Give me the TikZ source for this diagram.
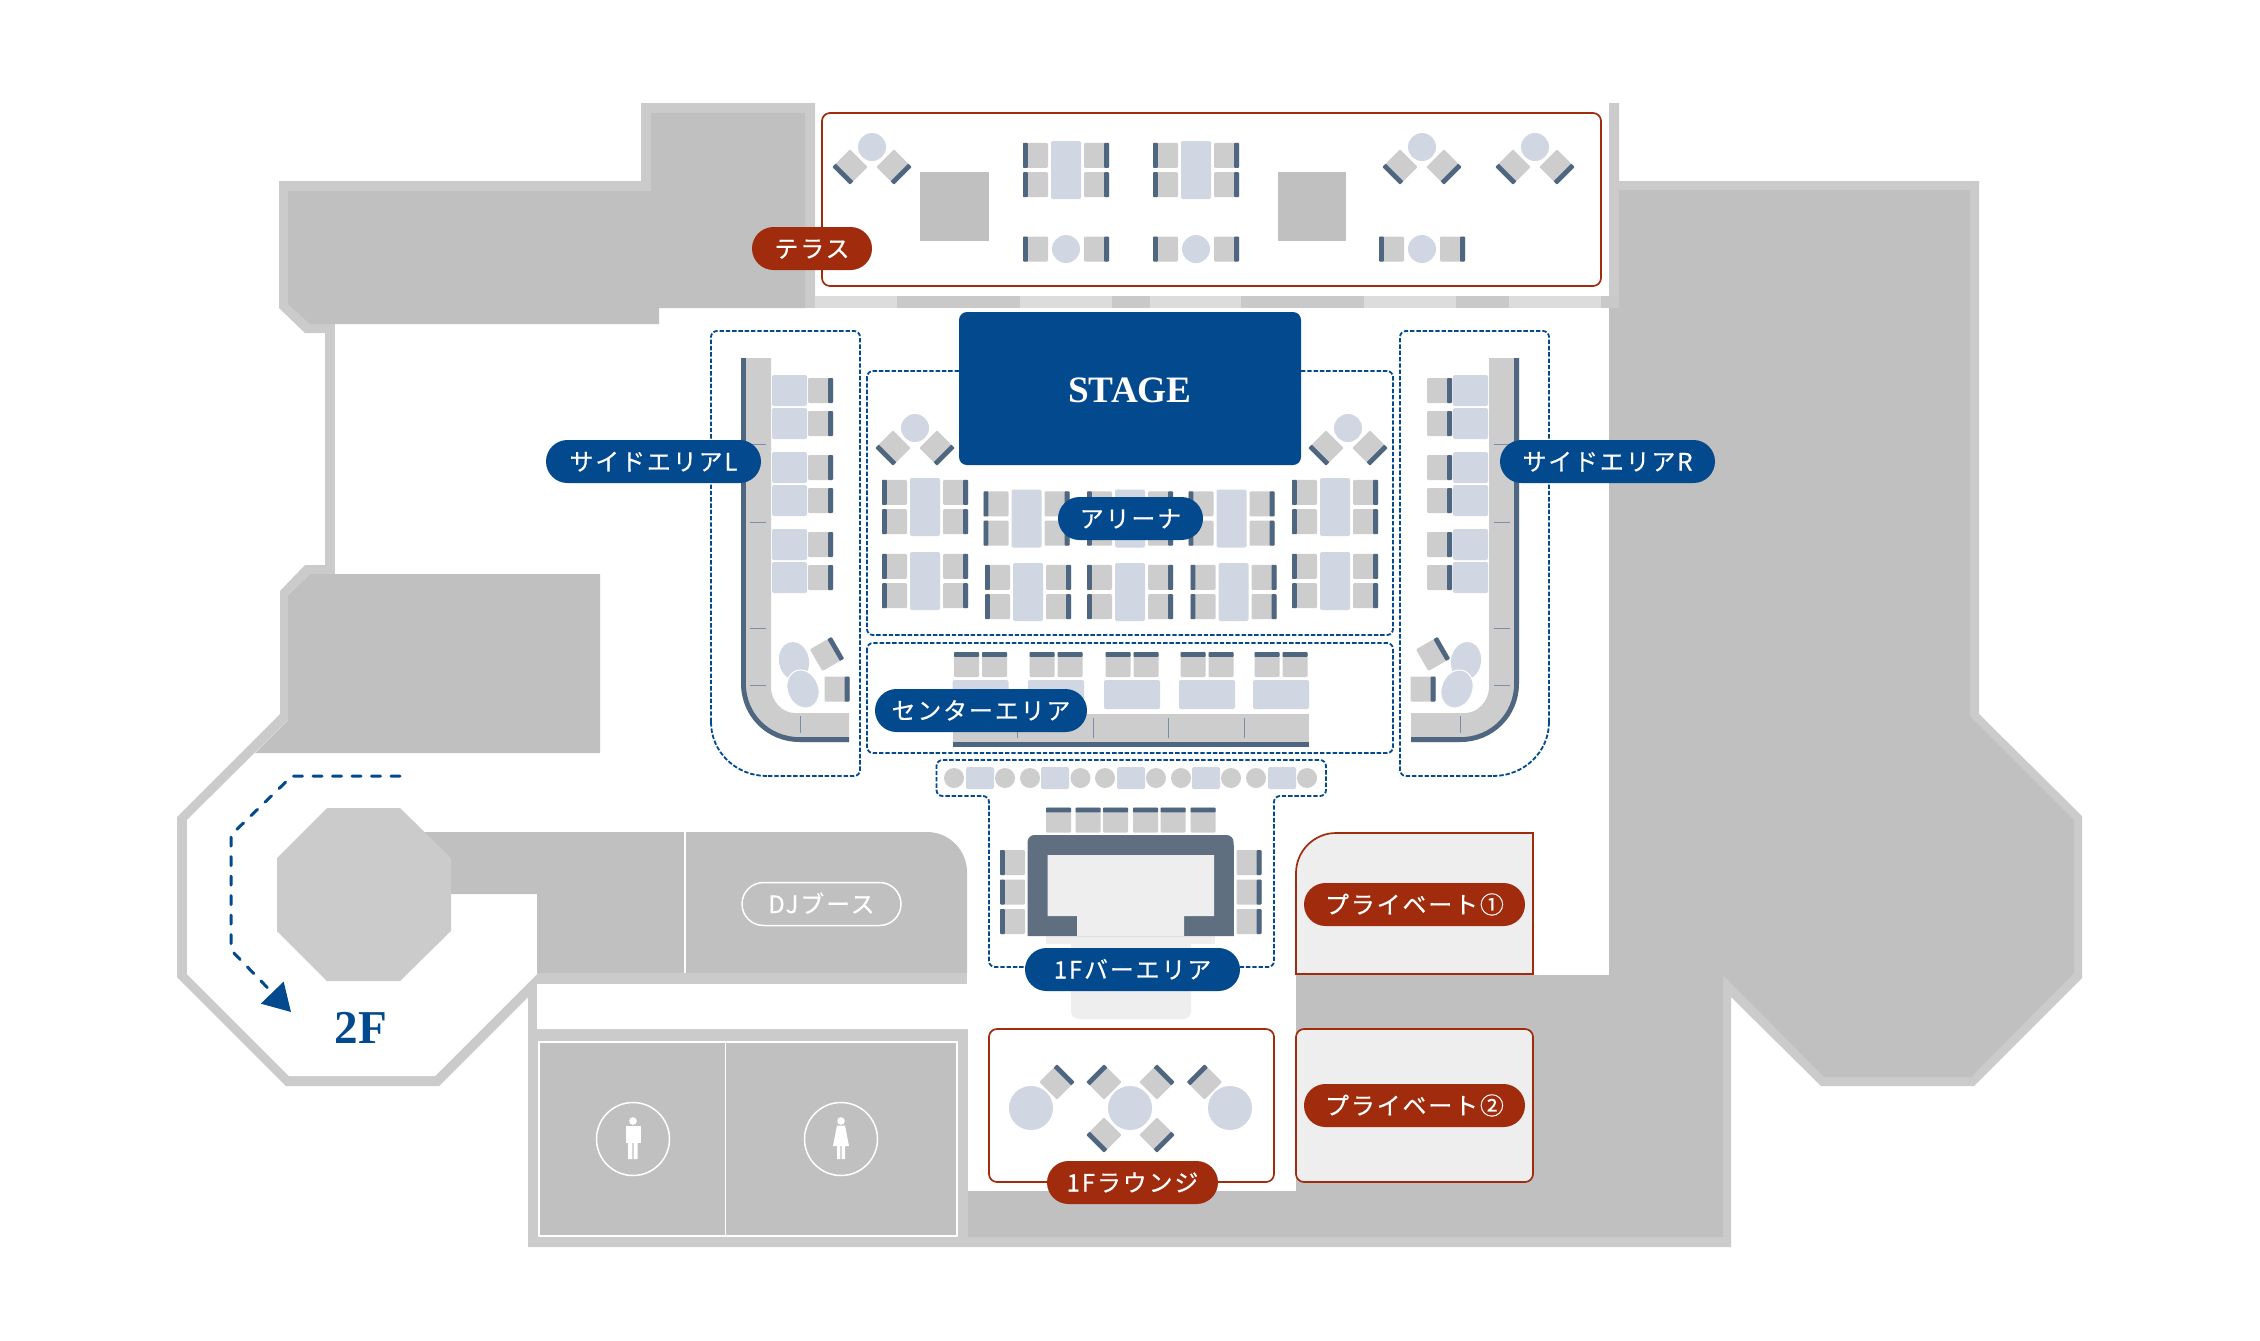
\documentclass[tikz,border=0pt]{standalone}
\usepackage{fontspec}
\usetikzlibrary{arrows.meta}
\newfontfamily\jpface[LetterSpace=8,FakeBold=0.45]{Noto Sans CJK JP}
\newfontfamily\serifface{Liberation Serif}

\definecolor{navy}{HTML}{03498E}
\definecolor{brick}{HTML}{A02B0D}
\definecolor{slate}{HTML}{4F6681}
\definecolor{barslate}{HTML}{5F6F80}
\definecolor{seatgray}{HTML}{CDCDCD}
\definecolor{tableblue}{HTML}{D0D7E2}
\definecolor{walllight}{HTML}{CBCBCB}
\definecolor{blockgray}{HTML}{C0C0C0}
\definecolor{bandlight}{HTML}{DCDCDC}
\definecolor{bandmid}{HTML}{C9C9C9}
\definecolor{floorgray}{HTML}{EEEEEE}
\definecolor{tickblue}{HTML}{7B8EA3}

\tikzset{
    pill/.style={minimum height=4.3mm, rounded corners=2.15mm, inner sep=0pt, text=white,
        text height=2.2mm, text depth=0.4mm, font=\jpface\fontsize{6.8}{6.8}\selectfont},
    navypill/.style={pill, fill=navy},
    brickpill/.style={pill, fill=brick},
    zoneline/.style={draw=navy, line width=0.18mm, dash pattern=on 0.44mm off 0.19mm, rounded corners=0.6mm},
    redbox/.style={draw=brick, line width=0.17mm, rounded corners=0.8mm},
    tablefill/.style={fill=tableblue, rounded corners=0.2mm},
    tick/.style={draw=tickblue, line width=0.1mm},
    chair/.pic={
        \path[fill=seatgray, rounded corners=0.12mm] (-12.5,-12.5) rectangle (12.5,12.5);
        \path[fill=slate, rounded corners=0.08mm] (-12.5,-12.5) rectangle (12.5,-7.7);
    }
}

% table with four chairs, centre at #1,#2
\newcommand{\tableset}[2]{
    \path[tablefill] (#1-15,#2-29) rectangle (#1+15,#2+29);
    \foreach \s in {-14.7,14.7} {
        \pic[rotate=90] at (#1-30.5,#2+\s) {chair};
        \pic[rotate=-90] at (#1+30.5,#2+\s) {chair};
    }
}
% round table with two chairs in a row
\newcommand{\roundset}[2]{
    \fill[tableblue] (#1,#2) circle[radius=1.4mm];
    \pic[rotate=90] at (#1-30.5,#2) {chair};
    \pic[rotate=-90] at (#1+30.5,#2) {chair};
}
% round table with two turned chairs
\newcommand{\cornerset}[2]{
    \fill[tableblue] (#1,#2) circle[radius=1.4mm];
    \pic[rotate=135] at (#1-22,#2+20) {chair};
    \pic[rotate=-135] at (#1+22,#2+20) {chair};
}
\newcommand{\sidearea}{
    \path[zoneline] (711,722) -- (711,331) -- (860,331) -- (860,776) -- (767,776);
    \draw[draw=navy, line width=0.18mm, dash pattern=on 0.44mm off 0.19mm] (767,776) .. controls (736,776) and (711,752) .. (711,722);
    \fill[seatgray] (741,358) -- (771,358) -- (771,687) .. controls (771,701) and (782,713) .. (795,713)
        -- (849,713) -- (849,742) -- (800,742) .. controls (767,742) and (741,716) .. (741,683) -- cycle;
    \draw[slate, line width=0.48mm] (743.4,358) -- (743.4,683) .. controls (743.4,715) and (768,739.6) .. (800,739.6) -- (849,739.6);
    \foreach \y in {444,522,628,685} {\draw[tick] (750,\y) -- (766,\y);}
    \draw[tick] (800,716) -- (800,733);
    \foreach \y in {390.5,423.5,467.5,500.5,544.5,577.5} {
        \path[tablefill] (772,\y-15.5) rectangle (807,\y+15.5);
        \pic[rotate=-90] at (820.5,\y) {chair};
    }
    \fill[tableblue, rotate around={10:(794,661)}] (794,661) ellipse[x radius=1.5mm, y radius=1.9mm];
    \filldraw[fill=tableblue, draw=white, line width=0.1mm, rotate around={22:(803,689)}] (803,689) ellipse[x radius=1.55mm, y radius=1.95mm];
    \pic[rotate=-60] at (827,654) {chair};
    \pic[rotate=-90] at (837,689) {chair};
}

\begin{document}
\begin{tikzpicture}[x=0.1mm, y=-0.1mm]
    \useasboundingbox (0,0) rectangle (2260,1340);
    \fill[white] (0,0) rectangle (2260,1340);

    % walls and floor
    \fill[walllight] (279,181) -- (641,181) -- (641,103) -- (815,103) -- (815,296) -- (1609,296) -- (1609,103)
        -- (1619,103) -- (1619,181) -- (1979,181) -- (1979,714) -- (2082,816) -- (2082,978) -- (1974,1086)
        -- (1821,1086) -- (1731,997) -- (1731,1247) -- (528,1247) -- (528,997) -- (439,1086) -- (286,1086)
        -- (177,977) -- (177,817) -- (280,714) -- (280,591) -- (305,565) -- (325,565) -- (325,333) -- (305,333)
        -- (279,308) -- cycle;
    \fill[white] (335,324) -- (659,324) -- (659,308) -- (1609,308) -- (1609,975) -- (1296,975) -- (1296,1191)
        -- (968,1191) -- (968,1029) -- (537,1029) -- (537,974) -- (435,1076) -- (289,1076) -- (187,974)
        -- (187,820) -- (288,720) -- (288,595) -- (310,574) -- (335,574) -- cycle;
    \fill[blockgray] (288,191) -- (651,191) -- (651,113) -- (805,113) -- (805,308) -- (659,308) -- (659,324)
        -- (310,324) -- (288,304) -- cycle;
    \fill[blockgray] (310,574) -- (600,574) -- (600,753) -- (255,753) -- (288,720) -- (288,595) -- cycle;
    \fill[blockgray] (1609,308) -- (1619,308) -- (1619,190) -- (1970,190) -- (1970,716) -- (2074,820) -- (2074,973)
        -- (1971,1077) -- (1824,1077) -- (1723,975) -- (1723,1237) -- (968,1237) -- (968,1191) -- (1296,1191)
        -- (1296,975) -- (1609,975) -- cycle;
    \fill[blockgray] (420,832) -- (927,832) .. controls (949,832) and (967,850) .. (967,872) -- (967,973)
        -- (537,973) -- (537,894) -- (451,894) -- (420,860) -- cycle;
    \fill[walllight] (537,973) rectangle (967,984);
    \draw[white, line width=0.12mm] (685,832) -- (685,973);
    \fill[walllight] (327,808) -- (400,808) -- (451,858) -- (451,931) -- (400,981) -- (327,981) -- (277,931) -- (277,858) -- cycle;
    \foreach \a/\b/\c in {815/897/bandlight, 897/1020/bandmid, 1020/1112/bandlight, 1112/1150/bandmid, 1150/1241/bandlight,
        1241/1364/bandmid, 1364/1456/bandlight, 1456/1509/bandmid, 1509/1601/bandlight, 1601/1619/bandmid} {
        \fill[\c] (\a,296) rectangle (\b,308);
    }

    % restrooms
    \draw[white, line width=0.18mm, fill=blockgray] (539,1042) rectangle (957,1236);
    \draw[white, line width=0.18mm] (725.5,1042) -- (725.5,1236);
    \foreach \x in {633,841} {\draw[white, line width=0.15mm] (\x,1139) circle[radius=3.65mm];}
    \fill[white] (633,1121) circle[radius=0.38mm];
    \fill[white] (625.5,1125.5) rectangle (640.5,1143);
    \fill[white] (628,1143) rectangle (632.4,1159) (633.6,1143) rectangle (637.6,1159);
    \fill[white] (841,1121) circle[radius=0.38mm];
    \fill[white] (837,1125.5) -- (845,1125.5) -- (849,1146) -- (833,1146) -- cycle;
    \fill[white] (837,1146) rectangle (840.4,1159) (841.6,1146) rectangle (845,1159);

    % terrace
    \path[redbox] (822,113) rectangle (1601,286);
    \fill[blockgray] (920,172) rectangle (989,241);
    \fill[blockgray] (1278,172) rectangle (1346,241);
    \tableset{1066}{170}
    \tableset{1196}{170}
    \foreach \x in {872,1422,1535} {\cornerset{\x}{147}}
    \foreach \x in {1066,1196,1422} {\roundset{\x}{249}}

    % arena
    \path[zoneline] (867,371) rectangle (1393,635);
    \node[fill=navy, minimum width=34.2mm, minimum height=15.3mm, rounded corners=0.8mm, inner sep=0pt, text=white,
        text height=2.8mm, text depth=0mm, font=\serifface\bfseries\fontsize{10.6}{10.6}\selectfont] (stage) at (1130,388.5) {STAGE};
    \foreach \x/\y in {925/507, 925/581, 1335/507, 1335/581, 1026.5/518.5, 1130/518.5, 1231.5/518.5, 1028/592, 1130/592, 1233.5/592} {
        \tableset{\x}{\y}
    }
    \foreach \x in {915,1348} {\cornerset{\x}{428}}

    % center area
    \path[zoneline] (867,643) rectangle (1393,753);
    \foreach \x in {980.5,1056,1132,1207,1281} {
        \pic at (\x-14,664.5) {chair};
        \pic at (\x+14,664.5) {chair};
        \path[tablefill] (\x-28,680) rectangle (\x+28,709);
    }
    \fill[seatgray] (953,714) rectangle (1309,747);
    \fill[slate] (953,742) rectangle (1309,747);
    \foreach \x in {1017,1093,1168,1244} {\draw[tick] (\x,718) -- (\x,738);}

    % side areas
    \sidearea
    \begin{scope}[shift={(2260,0)}, xscale=-1]
        \sidearea
    \end{scope}

    % bar area
    \path[zoneline] (989,967) -- (989,796) -- (936.5,796) -- (936.5,760) -- (1326,760) -- (1326,796) -- (1274,796) -- (1274,967) -- cycle;
    \foreach \x in {954,1005,1030,1080.5,1105,1156,1181,1231,1256,1307} {\fill[seatgray] (\x,778) circle[radius=1mm];}
    \foreach \x in {980,1055,1131,1206,1282} {\path[tablefill] (\x-14,767) rectangle (\x+14,789);}
    \foreach \x in {1058.5,1088,1115.5,1145.5,1173,1203} {\pic at (\x,820) {chair};}
    \foreach \y in {862.5,892,921.5} {
        \pic[rotate=90] at (1012.5,\y) {chair};
        \pic[rotate=-90] at (1249,\y) {chair};
    }
    \path[fill=floorgray, rounded corners=0.8mm] (1071,930) -- (1191,930) -- (1191,1019) -- (1071,1019) -- cycle;
    \fill[floorgray] (1046,930) rectangle (1215,944);
    \fill[barslate, rounded corners=0.7mm] (1027.5,936) -- (1027.5,835) -- (1233.5,835) -- (1233.5,936);
    \fill[barslate] (1027.5,845) rectangle (1233.5,936);
    \fill[floorgray] (1047.5,855) -- (1214,855) -- (1214,916) -- (1184,916) -- (1184,936) -- (1077,936) -- (1077,916) -- (1047.5,916) -- cycle;

    % private rooms and lounge
    \filldraw[draw=brick, line width=0.17mm, fill=floorgray] (1533,833) -- (1336,833) .. controls (1314,833) and (1296,851) .. (1296,873) -- (1296,974) -- (1533,974) -- cycle;
    \path[redbox, fill=floorgray] (1296,1029) rectangle (1533,1182);
    \path[redbox, fill=white] (989,1029) rectangle (1274,1182);
    \foreach \x in {1031,1130,1230} {\fill[tableblue] (\x,1108) circle[radius=2.2mm];}
    \foreach \x/\a in {1057/-45, 1104/45, 1157/-45, 1204.5/45} {\pic[rotate=\a] at (\x,1082) {chair};}
    \pic[rotate=135] at (1104,1135) {chair};
    \pic[rotate=-135] at (1157,1135) {chair};

    % stairs
    \coordinate (stairA) at (400,776);
    \coordinate (stairB) at (292,776);
    \coordinate (stairC) at (231,835);
    \coordinate (stairD) at (231,950);
    \coordinate (stairE) at (291,1012);
    \draw[navy, line width=0.3mm, dash pattern=on 0.9mm off 1.05mm, line cap=round, -{Triangle[length=2.7mm, width=3.1mm]}]
        (stairA) -- (stairB) -- (stairC) -- (stairD) -- (stairE);
    \node[text=navy, inner sep=0pt, font=\serifface\bfseries\fontsize{13.4}{13.4}\selectfont] (floor2) at (361,1028) {2F};

    % labels
    \node[brickpill, minimum width=12mm] (terrace) at (812,248.5) {テラス};
    \node[navypill, minimum width=21.5mm] (sideL) at (653.5,461.5) {サイドエリアL};
    \node[navypill, minimum width=21.5mm] (sideR) at (1607.5,461.5) {サイドエリアR};
    \node[navypill, minimum width=14.5mm] (arena) at (1130.5,518.5) {アリーナ};
    \node[navypill, minimum width=21.2mm] (center) at (981,710.5) {センターエリア};
    \node[navypill, minimum width=21.5mm] (bar) at (1132.5,969.5) {1Fバーエリア};
    \node[pill, minimum width=15.9mm, draw=white, line width=0.15mm] (djbooth) at (821.5,904) {DJブース};
    \node[brickpill, minimum width=22.1mm] (private1) at (1414.5,904.5) {プライベート①};
    \node[brickpill, minimum width=22.1mm] (private2) at (1414.5,1105.5) {プライベート②};
    \node[brickpill, minimum width=17.1mm] (lounge) at (1132.5,1182.5) {1Fラウンジ};
\end{tikzpicture}
\end{document}
